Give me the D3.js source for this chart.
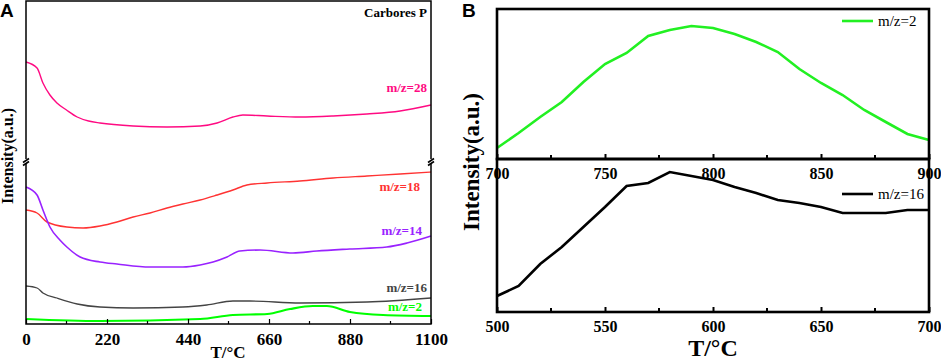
<!DOCTYPE html>
<html><head><meta charset="utf-8">
<script src="https://d3js.org/d3.v7.min.js"></script>
<style>body{margin:0;background:#fff}svg{display:block}</style>
</head><body>
<svg id="c" width="941" height="361"></svg>
<script>
// ---------- Panel A data (T in °C, intensity a.u.) ----------
const tempA = [0,30,46,65,84,110,139,170,201,291,383,473,519,562,589,655,744,834,926,1016,1100];
const mz28 = [262,256,241,229,221,214,207,203,201,198,197,198,201,207,209,208,207,208,210,213,219];

const tempA18 = [0,30,57,111,155,201,247,291,337,383,426,473,519,562,600,655,744,834,926,1016,1100];
const mz18 = [114,111,102,97,96,98,102,107,111,116,120,124,129,134,139,141,143,146,148,150,152];

const tempA14 = [0,30,46,65,92,111,147,201,247,337,426,473,508,546,581,636,725,790,879,980,1035,1100];
const mz14 = [137,129,114,97,84,77,67,62,60,57,57,59,62,67,73,74,71,73,75,77,81,88];

const tempA16 = [0,30,46,84,139,201,291,426,491,562,608,744,926,1100];
const mz16A = [38,36,31,26,20,17,16,17,19,23,23,21,22,26];

const tempA2 = [0,201,473,562,655,717,779,817,880,970,1100];
const mz2A = [5,3,5,9,10,15,18,18,12,9,8];

const ticksA = [0,220,440,660,880,1100];
const seriesLabelsA = ["m/z=28","m/z=18","m/z=14","m/z=16","m/z=2"];

// ---------- Panel B data ----------
const tempB2 = [700,710,720,730,740,750,760,770,780,790,800,810,820,830,840,850,860,870,880,890,900];
const mz2B = [11,26,42,57,77,95,106,123,129,133,131,125,117,107,90,76,64,49,37,25,19];
const tempB16 = [500,510,520,530,540,550,560,570,580,590,600,610,620,630,640,650,660,670,680,690,700];
const mz16B = [16,26,48,65,85,105,126,129,140,136,132,125,119,112,109,105,99,99,99,102,102];
const ticksB2 = [700,750,800,850,900];
const ticksB16 = [500,550,600,650,700];

const svg = d3.select("#c");
const serif = "'Liberation Serif','Times New Roman',serif";
const sans = "'Liberation Sans',Arial,sans-serif";

// ---------- Panel A ----------
const xA = d3.scaleLinear().domain([0,1100]).range([26,431]);
const yA = d3.scaleLinear().domain([0,323]).range([324,1]);
const gA = svg.append("g");

const seriesA = [
  {t:tempA, v:mz28, c:"#FF0A82", w:1.4, lab:seriesLabelsA[0], lx:427, ly:92},
  {t:tempA18, v:mz18, c:"#FF3333", w:1.4, lab:seriesLabelsA[1], lx:420, ly:191},
  {t:tempA14, v:mz14, c:"#9922FF", w:1.6, lab:seriesLabelsA[2], lx:422, ly:235},
  {t:tempA16, v:mz16A, c:"#444444", w:1.3, lab:seriesLabelsA[3], lx:427, ly:292},
  {t:tempA2, v:mz2A, c:"#00FF00", w:2.2, lab:seriesLabelsA[4], lx:422, ly:311}
];
const lineA = d3.line().x(d=>xA(d[0])).y(d=>yA(d[1])).curve(d3.curveMonotoneX);
seriesA.forEach(s=>{
  gA.append("path").datum(s.t.map((t,i)=>[t,s.v[i]]))
    .attr("d",lineA).attr("fill","none").attr("stroke",s.c).attr("stroke-width",s.w);
  gA.append("text").attr("x",s.lx).attr("y",s.ly).attr("text-anchor","end")
    .attr("font-family",serif).attr("font-weight","bold").attr("font-size",13)
    .attr("fill",s.c).text(s.lab);
});
// frame
gA.append("rect").attr("x",26).attr("y",1).attr("width",405).attr("height",323)
  .attr("fill","none").attr("stroke","#000").attr("stroke-width",1.5);
// x axis ticks (inward)
const axA = d3.axisBottom(xA).tickValues(ticksA).tickFormat(d3.format("d"))
  .tickSizeInner(-5).tickSizeOuter(0).tickPadding(9);
const axGA = gA.append("g").attr("transform","translate(0,324)").call(axA);
axGA.select(".domain").remove();
axGA.selectAll("line").attr("stroke-width",1.2);
axGA.selectAll("text").attr("font-family",serif).attr("font-weight","bold").attr("font-size",17).attr("fill","#000");
const minorA = d3.range(110,1100,220);
gA.selectAll(".mA").data(minorA).enter().append("line")
  .attr("x1",d=>xA(d)).attr("x2",d=>xA(d)).attr("y1",324).attr("y2",321)
  .attr("stroke","#000").attr("stroke-width",1.2);
// break markers
[26,431].forEach(x=>{
  gA.append("rect").attr("x",x-3).attr("y",159).attr("width",6).attr("height",5).attr("fill","#fff");
  [-1.5,1.5].forEach(o=>{
    gA.append("line").attr("x1",x-3).attr("y1",162+o+2).attr("x2",x+3).attr("y2",162+o-2)
      .attr("stroke","#000").attr("stroke-width",1.6);
  });
});
gA.append("text").attr("x",427).attr("y",17).attr("text-anchor","end")
  .attr("font-family",serif).attr("font-weight","bold").attr("font-size",13).text("Carbores P");
gA.append("text").attr("x",228).attr("y",358).attr("text-anchor","middle")
  .attr("font-family",serif).attr("font-weight","bold").attr("font-size",17).text("T/°C");
gA.append("text").attr("transform","translate(13,156) rotate(-90)").attr("text-anchor","middle")
  .attr("font-family",serif).attr("font-weight","bold").attr("font-size",16).text("Intensity(a.u.)");
svg.append("text").attr("x",0).attr("y",17).attr("font-family",sans).attr("font-weight","bold")
  .attr("font-size",19).text("A");

// ---------- Panel B ----------
const xB2 = d3.scaleLinear().domain([700,900]).range([497,929]);
const yB2 = d3.scaleLinear().domain([0,150]).range([159,9]);
const xB16 = d3.scaleLinear().domain([500,700]).range([497,929]);
const yB16 = d3.scaleLinear().domain([0,152]).range([312,160]);
const gB = svg.append("g");

gB.append("path").datum(tempB2.map((t,i)=>[t,mz2B[i]]))
  .attr("d",d3.line().x(d=>xB2(d[0])).y(d=>yB2(d[1])))
  .attr("fill","none").attr("stroke","#22F022").attr("stroke-width",2.6);
gB.append("path").datum(tempB16.map((t,i)=>[t,mz16B[i]]))
  .attr("d",d3.line().x(d=>xB16(d[0])).y(d=>yB16(d[1])))
  .attr("fill","none").attr("stroke","#000").attr("stroke-width",2.6);

gB.append("rect").attr("x",497).attr("y",9).attr("width",432).attr("height",150)
  .attr("fill","none").attr("stroke","#000").attr("stroke-width",2.6);
gB.append("rect").attr("x",497).attr("y",159).attr("width",432).attr("height",153)
  .attr("fill","none").attr("stroke","#000").attr("stroke-width",2.6);

function bAxis(scale, vals, y){
  const ax = d3.axisBottom(scale).tickValues(vals).tickSizeInner(-5).tickSizeOuter(0).tickPadding(9);
  const g = gB.append("g").attr("transform",`translate(0,${y})`).call(ax);
  g.select(".domain").remove();
  g.selectAll("line").attr("stroke-width",2);
  g.selectAll("text").attr("font-family",serif).attr("font-weight","bold").attr("font-size",16).attr("fill","#000");
  const mins = vals.slice(0,-1).map((v,i)=>(v+vals[i+1])/2);
  gB.selectAll(null).data(mins).enter().append("line")
    .attr("x1",d=>scale(d)).attr("x2",d=>scale(d)).attr("y1",y).attr("y2",y-4)
    .attr("stroke","#000").attr("stroke-width",2);
}
bAxis(xB2, ticksB2, 159);
bAxis(xB16, ticksB16, 312);

// legends
gB.append("line").attr("x1",842).attr("x2",873).attr("y1",21).attr("y2",21).attr("stroke","#22F022").attr("stroke-width",2.6);
gB.append("text").attr("x",878).attr("y",26).attr("font-family",serif).attr("font-size",15).text("m/z=2");
gB.append("line").attr("x1",842).attr("x2",873).attr("y1",194).attr("y2",194).attr("stroke","#000").attr("stroke-width",2.6);
gB.append("text").attr("x",878).attr("y",199).attr("font-family",serif).attr("font-size",15).text("m/z=16");

gB.append("text").attr("x",713).attr("y",356).attr("text-anchor","middle")
  .attr("font-family",serif).attr("font-weight","bold").attr("font-size",24).text("T/°C");
gB.append("text").attr("transform","translate(479,162) rotate(-90)").attr("text-anchor","middle")
  .attr("font-family",serif).attr("font-weight","bold").attr("font-size",23).text("Intensity(a.u.)");
svg.append("text").attr("x",462).attr("y",17).attr("font-family",sans).attr("font-weight","bold")
  .attr("font-size",19).text("B");
</script>
</body></html>
